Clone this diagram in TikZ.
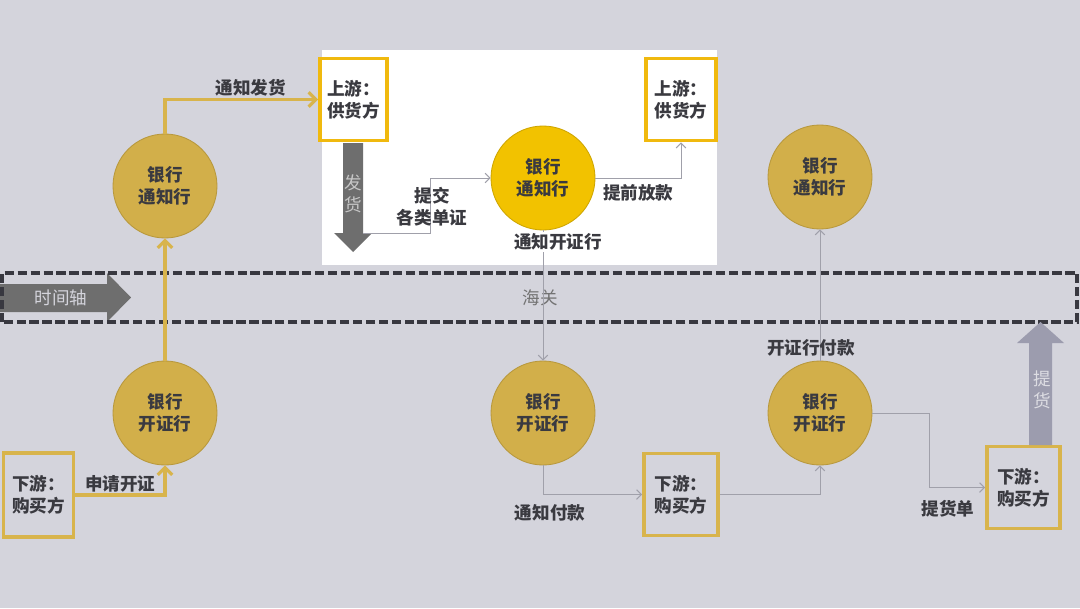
\documentclass[tikz,border=0pt]{standalone}
\usepackage{fontspec}
\setmainfont{Noto Sans CJK SC}
\usetikzlibrary{positioning, arrows.meta, calc}

\definecolor{bgray}{HTML}{D4D4DC}
\definecolor{gold}{HTML}{D2AF4A}
\definecolor{golddark}{HTML}{B8983C}
\definecolor{goldline}{HTML}{D8B44C}
\definecolor{sun}{HTML}{F2C200}
\definecolor{frameup}{HTML}{F0B90E}
\definecolor{txt}{HTML}{3A3A40}
\definecolor{thin}{HTML}{A0A0AA}
\definecolor{axisgray}{HTML}{6E6E6E}
\definecolor{liftgray}{HTML}{9C9CAE}
\definecolor{bandline}{HTML}{383840}

\begin{document}
\begin{tikzpicture}[font=\fontsize{12.5}{15.5}\selectfont,
    bank/.style={circle, draw=golddark, line width=0.6pt, fill=gold, minimum size=2.6cm,
        inner sep=0pt, align=center, text=txt, font=\fontsize{12.5}{15.5}\selectfont\bfseries},
    party/.style={rectangle, draw=goldline, line width=2.8pt, fill=bgray, minimum width=1.8cm,
        minimum height=2.05cm, inner sep=0pt, align=left, text=txt,
        font=\fontsize{12.5}{15.5}\selectfont\bfseries},
    flow/.style={line width=2.2pt, draw=goldline, -{Straight Barb[length=1.8mm,width=3.6mm]}},
    link/.style={line width=0.7pt, draw=thin, -{Straight Barb[length=1.2mm,width=2.4mm]}},
    lbl/.style={text=txt, inner sep=1pt, align=center, font=\fontsize{12.5}{15.5}\selectfont\bfseries},
    band/.style={draw=bandline, line width=2.6pt, dash pattern=on 6.6pt off 2.6pt}]

    % Pozadi
    \fill[bgray] (0,0) rectangle (27,15.2);
    \fill[white] (8.05,8.575) rectangle (17.925,13.95);

    % Casova osa a pas celnice
    \fill[axisgray] (0,8.1) -- (2.675,8.1) -- (2.675,8.375) -- (3.275,7.7625)
        -- (2.675,7.15) -- (2.675,7.4) -- (0,7.4) -- cycle;
    \node[text=bgray] (timelabel) at (1.525,7.7625) {时间轴};
    \draw[band] (0.05,7.15) rectangle (26.93,8.375);
    \node[text=black!55] (customs) at (13.5,7.7625) {海关};

    % Banky
    \node[bank] (notifyA) at (4.125,10.55) {银行\\通知行};
    \node[bank] (issueA) at (4.125,4.875) {银行\\开证行};
    \node[bank, fill=sun, draw=sun!85!black] (notifyB) at (13.575,10.75) {银行\\通知行};
    \node[bank] (issueB) at (13.575,4.875) {银行\\开证行};
    \node[bank] (issueC) at (20.5,4.875) {银行\\开证行};
    \node[bank] (notifyC) at (20.5,10.775) {银行\\通知行};

    % Strany obchodu
    \node[party, minimum width=1.75cm, minimum height=2.1cm] (buyerA) at (0.9625,2.825) {下游：\\购买方};
    \node[party, draw=frameup, fill=white, minimum width=1.675cm] (sellerA) at (8.8375,12.7125) {上游：\\供货方};
    \node[party, draw=frameup, fill=white, minimum width=1.75cm] (sellerB) at (17.025,12.7125) {上游：\\供货方};
    \node[party, minimum width=1.85cm] (buyerB) at (17.025,2.8375) {下游：\\购买方};
    \node[party, minimum width=1.825cm] (buyerC) at (25.5875,3.0125) {下游：\\购买方};

    % Sipka dodani zbozi
    \fill[axisgray] (8.575,11.625) -- (9.075,11.625) -- (9.075,9.375) -- (9.3,9.375)
        -- (8.825,8.9) -- (8.35,9.375) -- (8.575,9.375) -- cycle;
    \node[text=black!22, align=center] (shiplabel) at (8.825,10.3625) {发\\货};
    \coordinate (shipend) at (9.075,9.375);

    % Sipka prevzeti zbozi
    \fill[liftgray] (25.725,4.075) -- (25.725,6.625) -- (25.425,6.625) -- (26.0125,7.15)
        -- (26.6,6.625) -- (26.3,6.625) -- (26.3,4.075) -- cycle;
    \node[text=bgray!80!white, align=center] (liftlabel) at (26.05,5.45) {提\\货};

    % Zlate toky vlevo
    \draw[flow] (buyerA.east) -| node[pos=0.25, above, lbl] {申请开证} (issueA.south);
    \draw[flow] (issueA.north) -- (notifyA.south);
    \draw[flow] (notifyA.north) |- node[pos=0.78, above, lbl] {通知发货} (sellerA.west);

    % Tenke spoje
    \draw[link] (shipend) -- ++(1.675,0) |- (notifyB.west);
    \node[lbl] (docs) at (10.8,10.025) {提交\\各类单证};
    \draw[link] (notifyB.east) -| node[pos=0.25, below=3pt, lbl] {提前放款} (sellerB.south);
    \draw[link] (notifyB.south) -- (issueB.north);
    \node[lbl, fill=white] (tellissue) at (13.95,9.15) {通知开证行};
    \draw[link] (issueB.south) |- (buyerB.west);
    \node[lbl] (tellpay) at (13.75,2.375) {通知付款};
    \draw[link] (buyerB.east) -| (issueC.south);
    \draw[link] (issueC.north) -- (notifyC.south);
    \node[lbl] (issuepay) at (20.275,6.5) {开证行付款};
    \draw[link] (issueC.east) -- ++(1.425,0) |- (buyerC.west);
    \node[lbl] (billlabel) at (23.7,2.475) {提货单};

\end{tikzpicture}
\end{document}
